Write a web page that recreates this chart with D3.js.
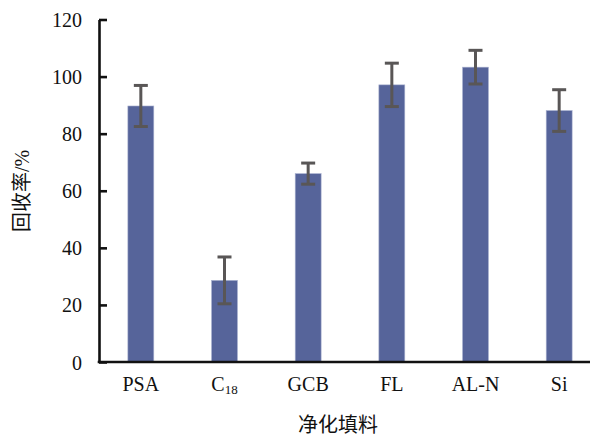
<!DOCTYPE html>
<html>
<head>
<meta charset="utf-8">
<script src="https://cdn.jsdelivr.net/npm/d3@7"></script>
<style>
  html, body { margin: 0; padding: 0; background: #fff; }
  svg { display: block; }
</style>
</head>
<body>
<svg id="chart" width="590" height="437"></svg>
<script>
// Sorbent types and their recoveries (%), with standard deviations
const categories = ["PSA", "C18", "GCB", "FL", "AL-N", "Si"];
const recovery   = [89.7, 28.6, 66.0, 97.1, 103.3, 88.1];
const deviation  = [7.2, 8.2, 3.7, 7.6, 5.9, 7.3];
const yTicks     = [0, 20, 40, 60, 80, 100, 120];

const serif = "'Liberation Serif', 'Times New Roman', serif";
const cjk = "'Noto Sans CJK SC', sans-serif";

const svg = d3.select("#chart");
const plotLeft = 99, plotRight = 601, plotTop = 19.5, plotBottom = 362;

const x = d3.scaleBand()
  .domain(categories)
  .range([plotLeft, plotRight])
  .paddingInner(0.69)
  .paddingOuter(0.345);

const y = d3.scaleLinear().domain([0, 120]).range([plotBottom, plotTop]);

// Bars
svg.append("g").selectAll("rect")
  .data(categories)
  .join("rect")
  .attr("x", d => x(d))
  .attr("width", x.bandwidth())
  .attr("y", (d, i) => y(recovery[i]))
  .attr("height", (d, i) => y(0) - y(recovery[i]))
  .attr("fill", "#56649a")
  .attr("stroke", "#aab2d0")
  .attr("stroke-width", 0.6);

// Error bars
const capHalf = 7;
const eg = svg.append("g").attr("stroke", "#595656").attr("stroke-width", 3).attr("fill", "none");
categories.forEach((c, i) => {
  const cx = x(c) + x.bandwidth() / 2;
  const hi = y(recovery[i] + deviation[i]);
  const lo = y(recovery[i] - deviation[i]);
  eg.append("line").attr("x1", cx).attr("x2", cx).attr("y1", hi).attr("y2", lo);
  eg.append("line").attr("x1", cx - capHalf).attr("x2", cx + capHalf).attr("y1", hi).attr("y2", hi);
  eg.append("line").attr("x1", cx - capHalf).attr("x2", cx + capHalf).attr("y1", lo).attr("y2", lo);
});

// Y axis with inward ticks
const yAxis = svg.append("g")
  .attr("transform", `translate(${plotLeft},0)`)
  .call(d3.axisLeft(y).tickValues(yTicks).tickSize(-8).tickPadding(17).tickSizeOuter(0))
  .attr("font-family", serif).attr("font-size", 20);
yAxis.select(".domain").attr("stroke", "#111").attr("stroke-width", 2.6);
yAxis.selectAll(".tick line").attr("stroke", "#111").attr("stroke-width", 2.6);
yAxis.selectAll(".tick text").attr("fill", "#111").attr("dy", "0.35em");

// X axis
const xAxis = svg.append("g")
  .attr("transform", `translate(0,${plotBottom})`)
  .call(d3.axisBottom(x).tickSize(0).tickSizeOuter(0).tickPadding(15))
  .attr("font-family", serif).attr("font-size", 20);
xAxis.select(".domain").attr("stroke", "#111").attr("stroke-width", 2.6)
  .attr("d", `M${plotLeft - 1.3},0H590`);
xAxis.selectAll(".tick text")
  .attr("fill", "#111")
  .each(function(d) {
    if (d === "C18") {
      const t = d3.select(this).text("C");
      t.append("tspan").attr("font-size", 13).attr("dy", "0.25em").text("18");
    }
  });

// Axis titles
svg.append("text")
  .attr("x", 338).attr("y", 432)
  .attr("text-anchor", "middle")
  .attr("font-family", cjk)
  .attr("font-size", 20).attr("fill", "#111")
  .text("净化填料");

const yTitle = svg.append("text")
  .attr("transform", "translate(29,191) rotate(-90)")
  .attr("text-anchor", "middle")
  .attr("font-family", cjk)
  .attr("font-size", 20).attr("fill", "#111");
yTitle.append("tspan").text("回收率");
yTitle.append("tspan").attr("font-family", serif).text("/%");
</script>
</body>
</html>
